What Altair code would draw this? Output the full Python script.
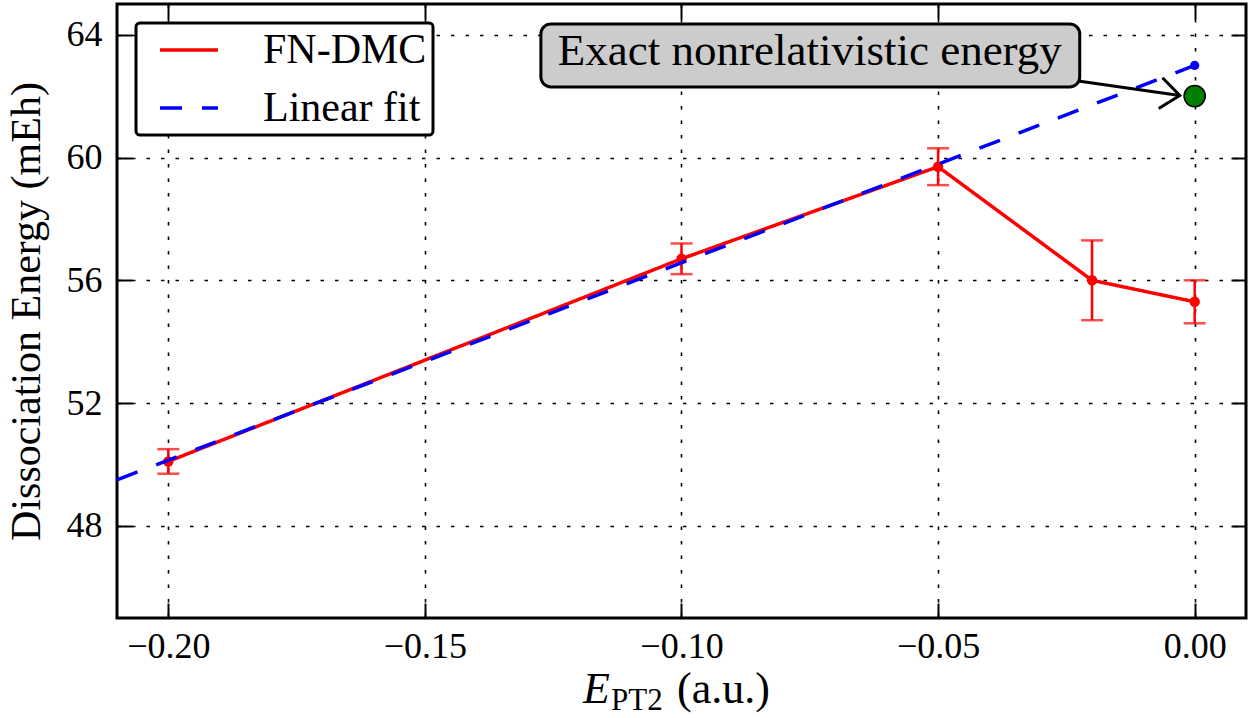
import altair as alt
import pandas as pd

# ---------------- data ----------------
dmc_x = [-0.20, -0.10, -0.05, -0.02, 0.00]
dmc_y = [50.1, 56.7, 59.7, 56.0, 55.3]
dmc_err = [0.4, 0.5, 0.6, 1.3, 0.7]

fit_x = [-0.21, 0.00]
fit_y = [49.5, 63.0]

extrap_x = [0.00]
extrap_y = [63.0]

exact_x = [0.00]
exact_y = [62.0]

series_names = ["FN-DMC", "Linear fit"]
x_ticks = [-0.20, -0.15, -0.10, -0.05, 0.00]
y_ticks = [48, 52, 56, 60, 64]

note_text = ["Exact nonrelativistic energy"]
note_x = [-0.075]
note_y = [63.0]
box_x = [-0.1274]
box_x2 = [-0.0224]
box_y = [62.30]
box_y2 = [64.35]
arrow_x = [-0.0227, -0.0029]
arrow_y = [62.49, 62.02]

y_title = "Dissociation Energy (mEh)"
x_title_main = "E"
x_title_sub = "PT2"
x_title_unit = "(a.u.)"

# ---------------- chart ----------------
FONT = "Liberation Serif"
W, H = 1129, 614
RED = "#ff0000"
BLUE = "#0000ff"

xs = alt.Scale(domain=[-0.21, 0.01], nice=False, zero=False)
ys = alt.Scale(domain=[45, 65], nice=False, zero=False)

dmc = pd.DataFrame({
    "x": dmc_x,
    "y": dmc_y,
    "lo": [v - e for v, e in zip(dmc_y, dmc_err)],
    "hi": [v + e for v, e in zip(dmc_y, dmc_err)],
    "series": [series_names[0]] * len(dmc_x),
})
fit = pd.DataFrame({"x": fit_x, "y": fit_y, "series": [series_names[1]] * len(fit_x)})
extrap = pd.DataFrame({"x": extrap_x, "y": extrap_y})
exact = pd.DataFrame({"x": exact_x, "y": exact_y})
note = pd.DataFrame({"x": note_x, "y": note_y, "t": note_text})
box = pd.DataFrame({"x": box_x, "x2": box_x2, "y": box_y, "y2": box_y2})
arrow = pd.DataFrame({"x": arrow_x, "y": arrow_y, "o": [0, 1]})
arrow_tip = arrow.iloc[[1]]
one = pd.DataFrame({"k": [0]})


def X(f="x", axis=None):
    return alt.X(f"{f}:Q", scale=xs, axis=axis)


def Y(f="y", axis=None):
    return alt.Y(f"{f}:Q", scale=ys, axis=axis)


cscale = alt.Scale(domain=series_names, range=[RED, BLUE])
dscale = alt.Scale(domain=series_names, range=[[1, 0], [22, 20]])
leg = alt.Legend(
    orient="none", legendX=19, legendY=19,
    symbolType="M-2,0L2,0", symbolSize=841, symbolStrokeWidth=3.5, symbolOffset=26,
    labelFont=FONT, labelFontSize=42, labelColor="black", labelOffset=53,
    labelExpr="datum.label + '\u2004'",
    labelLimit=0, rowPadding=16, padding=6,
    strokeColor="black", cornerRadius=4, fillColor="white",
)


def enc_series():
    return dict(
        color=alt.Color("series:N", scale=cscale, legend=leg, title=None),
        strokeDash=alt.StrokeDash("series:N", scale=dscale, legend=leg, title=None),
    )


# main axes (labels + dotted grid), drawn from an invisible layer
main_axes = alt.Chart(dmc).mark_point(opacity=0).encode(
    x=X(axis=alt.Axis(
        orient="bottom", values=x_ticks, format=".2f", grid=True,
        gridColor="black", gridDash=[3.5, 11], gridWidth=1.6, gridOpacity=1,
        ticks=False, tickSize=0, domain=False,
        labelFont=FONT, labelFontSize=36, labelColor="black", labelPadding=11,
        labelFlush=False, labelOverlap=False, title=None,
    )),
    y=Y(axis=alt.Axis(
        orient="left", values=y_ticks, format="d", grid=True,
        gridColor="black", gridDash=[3.5, 11], gridWidth=1.6, gridOpacity=1,
        ticks=False, tickSize=0, domain=False,
        labelFont=FONT, labelFontSize=36, labelColor="black", labelPadding=15,
        labelFlush=False, labelOverlap=False,
        title=y_title, titleFont=FONT, titleFontSize=42, titleFontWeight="normal",
        titleColor="black", titlePadding=18,
    )),
)


def tick_axis(orient, values):
    return alt.Axis(
        orient=orient, values=values, offset=-15, tickSize=15, tickWidth=2,
        tickColor="black", ticks=True, labels=False, grid=False, domain=False,
        title=None,
    )


ticks_bl = alt.Chart(dmc).mark_point(opacity=0).encode(
    x=X(axis=tick_axis("bottom", x_ticks)),
    y=Y(axis=tick_axis("left", y_ticks)),
)
ticks_tr = alt.Chart(dmc).mark_point(opacity=0).encode(
    x=X(axis=tick_axis("top", x_ticks)),
    y=Y(axis=tick_axis("right", y_ticks)),
)

err_rule = alt.Chart(dmc).mark_rule(color=RED, strokeWidth=2.5).encode(
    x=X(), y=Y("lo"), y2="hi:Q"
)
cap_lo = alt.Chart(dmc).mark_tick(color=RED, orient="horizontal", size=22, thickness=2.5).encode(
    x=X(), y=Y("lo")
)
cap_hi = alt.Chart(dmc).mark_tick(color=RED, orient="horizontal", size=22, thickness=2.5).encode(
    x=X(), y=Y("hi")
)
dmc_line = alt.Chart(dmc).mark_line(strokeWidth=3.5, strokeCap="butt").encode(
    x=X(), y=Y(), **enc_series()
)
dmc_pts = alt.Chart(dmc).mark_circle(color=RED, size=110, opacity=1).encode(x=X(), y=Y())
fit_line = alt.Chart(fit).mark_line(strokeWidth=3.5, strokeCap="butt").encode(
    x=X(), y=Y(), **enc_series()
)
extrap_pt = alt.Chart(extrap).mark_circle(color=BLUE, size=85, opacity=1).encode(x=X(), y=Y())
exact_pt = alt.Chart(exact).mark_point(
    filled=True, fill="#007f00", stroke="black", strokeWidth=1.5, size=450, opacity=1
).encode(x=X(), y=Y())

note_box = alt.Chart(box).mark_rect(
    fill="#cccccc", stroke="black", strokeWidth=3, cornerRadius=10
).encode(x=X(), x2="x2:Q", y=Y(), y2="y2:Q")
note_txt = alt.Chart(note).mark_text(
    font=FONT, fontSize=45, color="black", align="center", baseline="alphabetic"
).encode(x=X(), y=Y(), text="t:N")
arrow_line = alt.Chart(arrow).mark_line(color="black", strokeWidth=3).encode(
    x=X(), y=Y(), order="o:Q"
)
arrow_head = alt.Chart(arrow_tip).mark_point(
    shape="M-1,-0.8L0,0L-1,0.8", size=1500, filled=False, stroke="black",
    strokeWidth=3, angle=7, opacity=1,
).encode(x=X(), y=Y())

xt_e = alt.Chart(one).mark_text(
    text=x_title_main, font=FONT, fontSize=44, fontStyle="italic", color="black",
    align="left", baseline="alphabetic",
).encode(x=alt.value(466), y=alt.value(699))
xt_sub = alt.Chart(one).mark_text(
    text=x_title_sub, font=FONT, fontSize=31, color="black",
    align="left", baseline="alphabetic",
).encode(x=alt.value(494), y=alt.value(706))
xt_unit = alt.Chart(one).mark_text(
    text=x_title_unit, font=FONT, fontSize=44, color="black",
    align="left", baseline="alphabetic",
).encode(x=alt.value(560), y=alt.value(699))

chart = alt.layer(
    main_axes, ticks_bl, ticks_tr,
    err_rule, cap_lo, cap_hi, dmc_line, dmc_pts,
    fit_line, extrap_pt, exact_pt,
    note_box, note_txt, arrow_line, arrow_head,
    xt_e, xt_sub, xt_unit,
).resolve_axis(
    x="independent", y="independent"
).properties(
    width=W, height=H,
    autosize=alt.AutoSizeParams(type="none"),
    padding={"left": 117, "top": 4, "right": 4, "bottom": 100},
    background="white",
).configure_view(
    stroke="black", strokeWidth=3
).configure_legend(
    strokeWidth=3
)

chart.save("out.html", embed_options={"renderer": "svg", "actions": False})
